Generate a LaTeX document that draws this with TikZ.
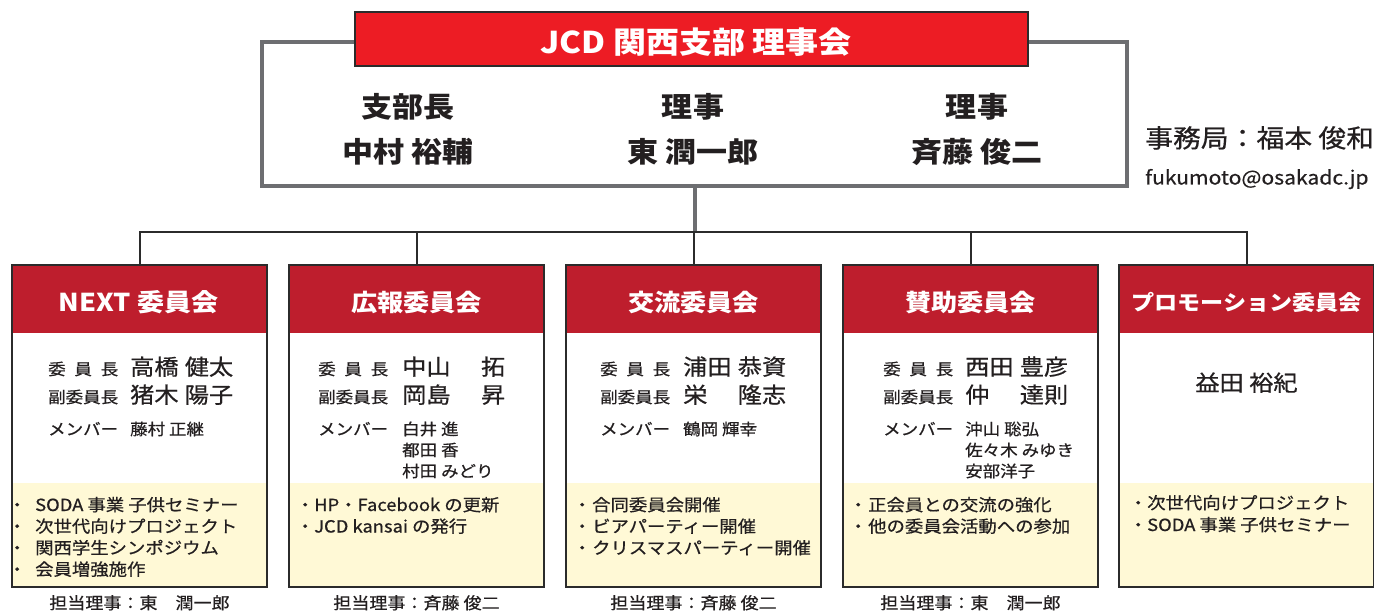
\documentclass[tikz,border=0pt]{standalone}
\usepackage{fontspec}
\setmainfont{Noto Sans CJK JP}[FakeStretch=1.1]
\newfontfamily\mfont{Noto Sans CJK JP}[FakeStretch=1.1, FakeBold=0.6]
\definecolor{topred}{HTML}{ED1C24}
\definecolor{comred}{HTML}{BE1E2D}
\definecolor{boardgray}{HTML}{6D6E71}
\definecolor{ink}{HTML}{231F20}
\definecolor{edge}{HTML}{2B2B2B}
\definecolor{cream}{HTML}{FFF9D6}
\newcommand\fs[1]{\mfont\fontsize{#1}{#1}\selectfont}
\newcommand\bfs[1]{\normalfont\bfseries\fontsize{#1}{#1}\selectfont}
\newcommand\nmbox[2]{\makebox[103pt][s]{#1\hfill#2}}
\newcommand\lbsp{\makebox[70pt][s]{委\hfill 員\hfill 長}}
\newcommand\bdot[1]{\makebox[#1][l]{\makebox[0pt]{・}}}
\begin{document}
\begin{tikzpicture}[x=1pt,y=-1pt,
 xtxt/.style={inner sep=0pt, anchor=base west, text=ink},
 xctxt/.style={inner sep=0pt, anchor=base, text=ink},
 xlab/.style={xtxt, font=\fs{15.9}},
 xbig/.style={xtxt, font=\fs{22}},
 xmem/.style={xtxt, font=\fs{15.9}},
 xbul/.style={xtxt, font=\fs{16.7}},
 xbot/.style={xctxt, font=\fs{16.4}},
 xboard/.style={xctxt, font=\bfs{28.2}},
 boardbox/.style={draw=boardgray, line width=4pt, minimum width=865pt, minimum height=144pt, inner sep=0pt, fill=white},
 titlebox/.style={draw=edge, fill=topred, line width=2pt, minimum width=673pt, minimum height=54pt, inner sep=0pt},
 cbox/.style={draw=edge, line width=2.5pt, minimum width=255pt, minimum height=322pt, inner sep=0pt},
 conn/.style={draw=edge, line width=2pt},
 gconn/.style={draw=boardgray, line width=4pt},
 chead/.style={inner sep=0pt, anchor=base, text=white, font=\bfs{23.8}},
]
\useasboundingbox (0,0) rectangle (1374,612);

% board
\node[boardbox] (board) at (694.5,114) {};
\node[titlebox] (title) at (691.5,39) {};
\node[inner sep=0pt, anchor=base, text=white, font=\bfs{30}] (titletxt) at (696,54) {JCD 関西支部 理事会};

\node[xboard] (b1a) at (408,117.6) {支部長};
\node[xboard] (b1b) at (408,162.6) {中村 裕輔};
\node[xboard] (b2a) at (693,117.6) {理事};
\node[xboard] (b2b) at (693,162.6) {東 潤一郎};
\node[xboard] (b3a) at (977,117.6) {理事};
\node[xboard] (b3b) at (977,162.6) {斉藤 俊二};

\node[xtxt, font=\fs{25.3}] (office) at (1145,147.5) {事務局：福本 俊和};
\node[xtxt, font=\fs{19.2}] (mail) at (1145,184.5) {fukumoto@osakadc.jp};

% committee shells
\foreach \L/\n in {12/c1,289/c2,566/c3,843/c4,1119/c5}{
  \fill[comred] (\L,265) rectangle ({\L+255},333);
  \fill[white] (\L,333) rectangle ({\L+255},483);
  \fill[cream] (\L,483) rectangle ({\L+255},587);
  \node[cbox] (\n) at ({\L+127.5},426) {};
}

% connectors
\coordinate (hub) at (694.5,232);
\draw[gconn] (board.south) -- (board.south |- hub);
\draw[conn] (c1.north) -- (c1.north |- hub) -- (c5.north |- hub) -- (c5.north);
\foreach \n in {c2,c3,c4}{\draw[conn] (\n.north) -- (\n.north |- hub);}

% headers
\node[chead, font=\bfs{24.6}] (h1) at (138.5,312) {NEXT 委員会};
\node[chead] (h2) at (416.5,312) {広報委員会};
\node[chead] (h3) at (693.5,312) {交流委員会};
\node[chead] (h4) at (970.5,312) {賛助委員会};
\node[chead, font=\bfs{21}] (h5) at (1246.5,311) {プロモーション委員会};

% NEXT
\node[xlab] (n1l1) at (48,375) {\lbsp};
\node[xlab] (n1l2) at (48,403) {副委員長};
\node[xlab] (n1l3) at (48,435) {メンバー};
\node[xbig] (n1n1) at (130,375) {\nmbox{高橋}{健太}};
\node[xbig] (n1n2) at (130,403) {\nmbox{猪木}{陽子}};
\node[xmem] (n1m1) at (130,435) {藤村 正継};
\node[xbul] (n1b1) at (17,511) {\bdot{18pt}SODA 事業 子供セミナー};
\node[xbul] (n1b2) at (17,532.5) {\bdot{18pt}次世代向けプロジェクト};
\node[xbul] (n1b3) at (17,554) {\bdot{18pt}関西学生シンポジウム};
\node[xbul] (n1b4) at (17,575.5) {\bdot{18pt}会員増強施作};
\node[xbot] (n1t) at (139.5,609) {担当理事：東　潤一郎};

% 広報
\node[xlab] (n2l1) at (318,375) {\lbsp};
\node[xlab] (n2l2) at (318,403) {副委員長};
\node[xlab] (n2l3) at (318,435) {メンバー};
\node[xbig] (n2n1) at (402,375) {\nmbox{中山}{拓}};
\node[xbig] (n2n2) at (402,403) {\nmbox{岡島}{昇}};
\node[xmem] (n2m1) at (402,435) {白井 進};
\node[xmem] (n2m2) at (402,456) {都田 香};
\node[xmem] (n2m3) at (402,477) {村田 みどり};
\node[xbul] (n2b1) at (305,511) {\bdot{9pt}HP・Facebook の更新};
\node[xbul] (n2b2) at (305,532.5) {\bdot{9pt}JCD kansai の発行};
\node[xbot] (n2t) at (416.5,609) {担当理事：斉藤 俊二};

% 交流
\node[xlab] (n3l1) at (600,375) {\lbsp};
\node[xlab] (n3l2) at (600,403) {副委員長};
\node[xlab] (n3l3) at (600,435) {メンバー};
\node[xbig] (n3n1) at (683,375) {\nmbox{浦田}{恭資}};
\node[xbig] (n3n2) at (683,403) {\nmbox{栄}{隆志}};
\node[xmem] (n3m1) at (683,435) {鶴岡 輝幸};
\node[xbul] (n3b1) at (582,511) {\bdot{10pt}合同委員会開催};
\node[xbul] (n3b2) at (582,532.5) {\bdot{10pt}ビアパーティー開催};
\node[xbul] (n3b3) at (582,554) {\bdot{10pt}クリスマスパーティー開催};
\node[xbot] (n3t) at (693.5,609) {担当理事：斉藤 俊二};

% 賛助
\node[xlab] (n4l1) at (883,375) {\lbsp};
\node[xlab] (n4l2) at (883,403) {副委員長};
\node[xlab] (n4l3) at (883,435) {メンバー};
\node[xbig] (n4n1) at (965,375) {\nmbox{西田}{豊彦}};
\node[xbig] (n4n2) at (965,403) {\nmbox{仲}{達則}};
\node[xmem] (n4m1) at (965,435) {沖山 聡弘};
\node[xmem] (n4m2) at (965,456) {佐々木 みゆき};
\node[xmem] (n4m3) at (965,477) {安部洋子};
\node[xbul] (n4b1) at (858,511) {\bdot{10pt}正会員との交流の強化};
\node[xbul] (n4b2) at (858,532.5) {\bdot{10pt}他の委員会活動への参加};
\node[xbot] (n4t) at (970.5,609) {担当理事：東　潤一郎};

% プロモーション
\node[xctxt, font=\fs{22}] (n5n1) at (1246.5,391) {益田 裕紀};
\node[xbul] (n5b1) at (1138,509) {\bdot{9pt}次世代向けプロジェクト};
\node[xbul] (n5b2) at (1138,531) {\bdot{9pt}SODA 事業 子供セミナー};
\end{tikzpicture}
\end{document}
